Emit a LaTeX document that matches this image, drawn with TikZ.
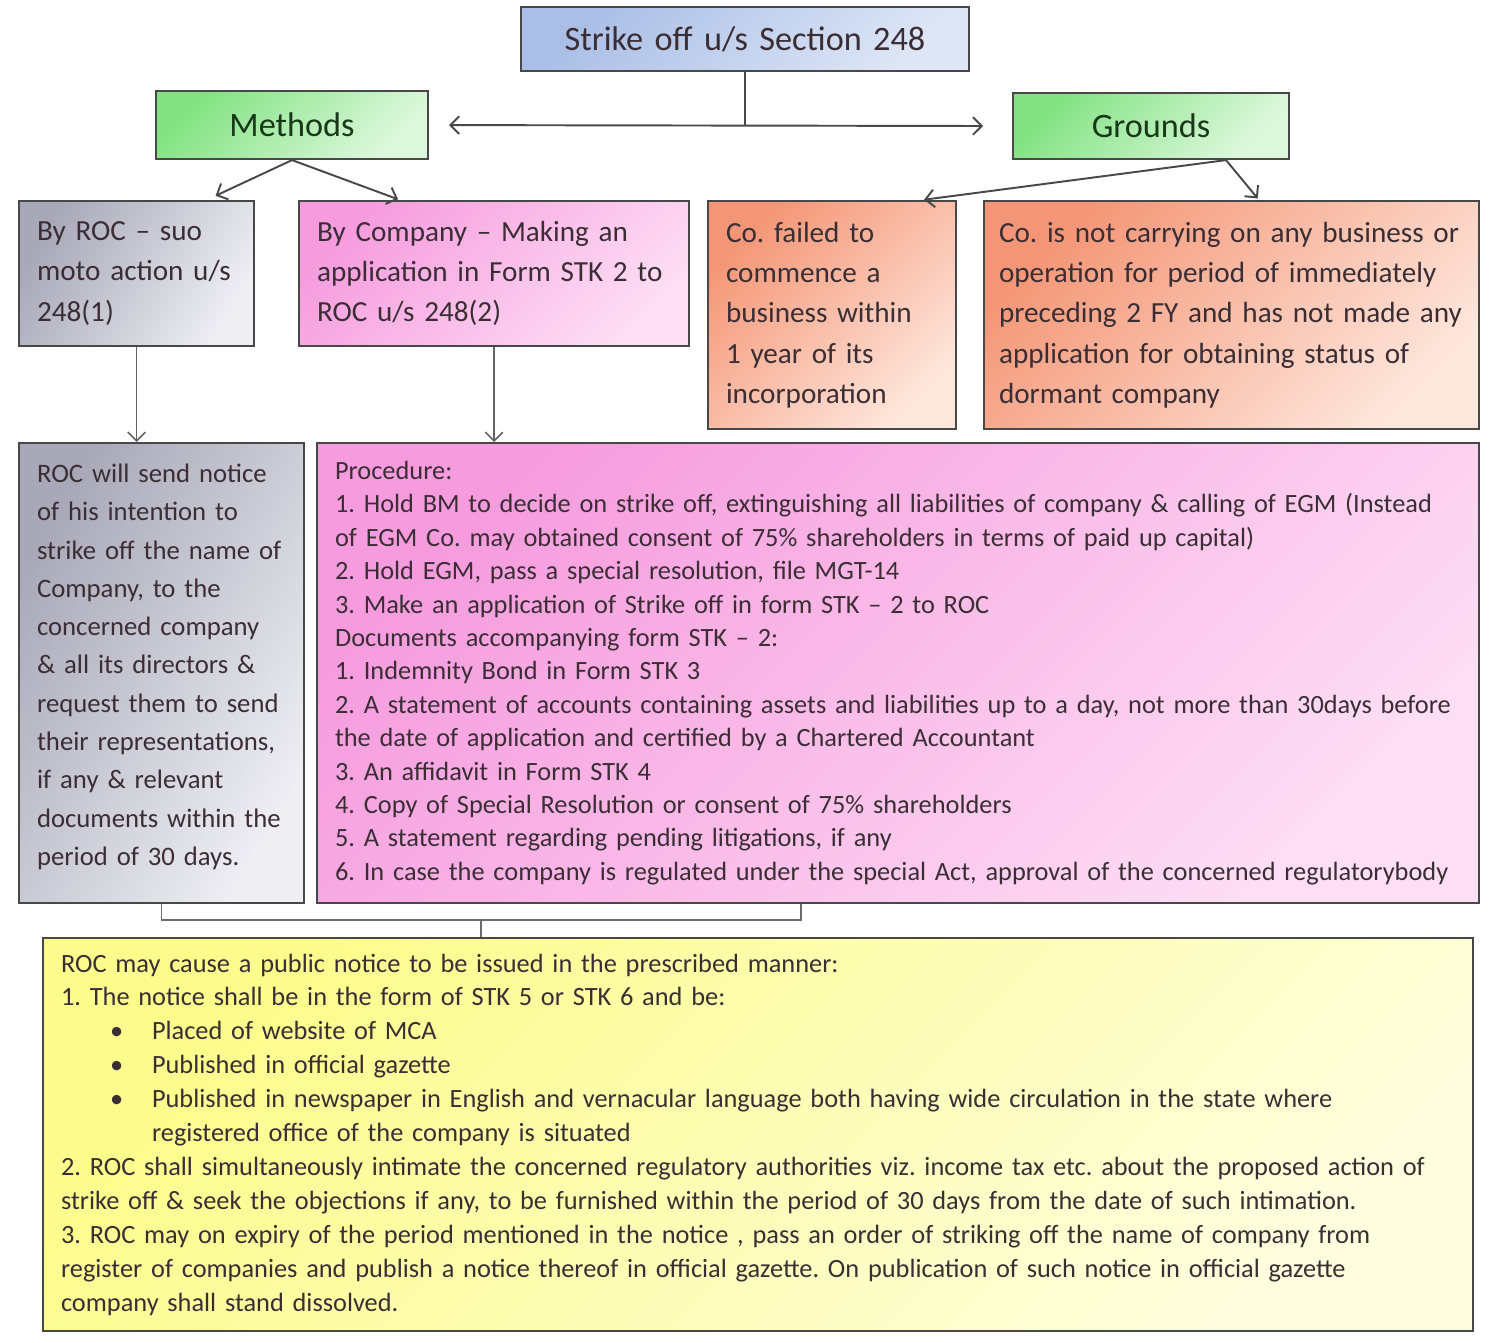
\documentclass[tikz,border=0pt]{standalone}
\usepackage{fontspec}
\setmainfont{Carlito}
\usepackage{tikz}
\usetikzlibrary{positioning,arrows.meta,calc}
\frenchspacing
\definecolor{txtcol}{RGB}{58,46,52}
\definecolor{greentxt}{RGB}{25,55,25}
\definecolor{linecol}{RGB}{72,72,72}
\definecolor{blueA}{RGB}{170,190,230}
\definecolor{blueB}{RGB}{222,230,246}
\definecolor{greenA}{RGB}{130,226,130}
\definecolor{greenB}{RGB}{222,248,222}
\definecolor{grayA}{RGB}{168,168,184}
\definecolor{grayB}{RGB}{238,238,243}
\definecolor{pinkA}{RGB}{246,156,222}
\definecolor{pinkB}{RGB}{253,222,244}
\definecolor{salmonA}{RGB}{244,150,118}
\definecolor{salmonB}{RGB}{253,230,220}
\definecolor{yellowA}{RGB}{252,252,140}
\definecolor{yellowB}{RGB}{254,254,222}

\begin{document}
\begin{tikzpicture}[
  x=0.02cm, y=-0.02cm, % 1 单位 = 1 像素
  >={Straight Barb[length=5pt,width=10pt]}, % 箭头样式
  box/.style={draw=linecol, line width=1.2pt, anchor=north west, align=left,
    inner xsep=0.36cm, inner ysep=2pt, text=txtcol},
  bluebox/.style={box, top color=blueA, bottom color=blueB, shading angle=45},
  greenbox/.style={box, top color=greenA, bottom color=greenB, shading angle=45, text=greentxt},
  graybox/.style={box, top color=grayA, bottom color=grayB, shading angle=60},
  pinkbox/.style={box, top color=pinkA, bottom color=pinkB, shading angle=45},
  salmonbox/.style={box, top color=salmonA, bottom color=salmonB, shading angle=45},
  yellowbox/.style={box, top color=yellowA, bottom color=yellowB, shading angle=45},
  bigfont/.style={font=\fontsize{19.5}{23}\selectfont},
  midfont/.style={font=\fontsize{16.6}{22.9}\selectfont},
  link/.style={draw=linecol, line width=1.1pt},
  down/.style={draw=linecol!85, line width=0.9pt, ->}
]
\useasboundingbox (0,0) rectangle (1500,1342);

% 第一行
\node[bluebox, bigfont, align=center, text width=8.24cm, minimum height=1.28cm] (title) at (520,6) {Strike off u/s Section 248};

% 第二行
\node[greenbox, bigfont, align=center, text width=4.72cm, minimum height=1.36cm] (methods) at (155,90) {Methods};
\node[greenbox, bigfont, align=center, text width=4.80cm, minimum height=1.32cm] (grounds) at (1012,92) {Grounds};

% 第三行
\node[graybox, midfont, text width=3.98cm, minimum height=2.90cm] (rocbox) at (18,200)
  {By ROC -- suo\\moto action u/s\\248(1)};
\node[pinkbox, midfont, text width=7.08cm, minimum height=2.90cm] (compbox) at (298,200)
  {By Company -- Making an\\application in Form STK 2 to\\ROC u/s 248(2)};
\node[salmonbox, midfont, text width=4.24cm, minimum height=4.56cm] (failbox) at (707,200)
  {Co. failed to\\commence a\\business within\\1 year of its\\incorporation};
\node[salmonbox, midfont, inner xsep=0.3cm, text width=9.30cm, minimum height=4.56cm] (notbox) at (983,200)
  {Co. is not carrying on any business or\\operation for period of immediately\\preceding 2 FY and has not made any\\application for obtaining status of\\dormant company};

% 第四行
\node[graybox, font=\fontsize{15.2}{21.8}\selectfont, text width=4.98cm, minimum height=9.20cm] (noticebox) at (18,442)
  {ROC will send notice\\of his intention to\\strike off the name of\\Company, to the\\concerned company\\\& all its directors \&\\request them to send\\their representations,\\if any \& relevant\\documents within the\\period of 30 days.\vspace{7pt}};
\node[pinkbox, font=\fontsize{15}{19}\selectfont, text width=22.52cm, minimum height=9.20cm] (procbox) at (316,442)
  {Procedure:\\
   1. Hold BM to decide on strike off, extinguishing all liabilities of company \& calling of EGM (Instead\\
   of EGM Co. may obtained consent of 75\% shareholders in terms of paid up capital)\\
   2. Hold EGM, pass a special resolution, file MGT-14\\
   3. Make an application of Strike off in form STK -- 2 to ROC\\
   Documents accompanying form STK -- 2:\\
   1. Indemnity Bond in Form STK 3\\
   2. A statement of accounts containing assets and liabilities up to a day, not more than 30days before\\
   the date of application and certified by a Chartered Accountant\\
   3. An affidavit in Form STK 4\\
   4. Copy of Special Resolution or consent of 75\% shareholders\\
   5. A statement regarding pending litigations, if any\\
   6. In case the company is regulated under the special Act, approval of the concerned regulatorybody};

% 最后一行
\node[yellowbox, font=\fontsize{15}{19.3}\selectfont, text width=27.88cm, minimum height=7.86cm] (yellowbox) at (42,937)
  {ROC may cause a public notice to be issued in the prescribed manner:\\
   1. The notice shall be in the form of STK 5 or STK 6 and be:\\
   \makebox[1.82cm][l]{\hspace{0.98cm}\textbullet}Placed of website of MCA\\
   \makebox[1.82cm][l]{\hspace{0.98cm}\textbullet}Published in official gazette\\
   \makebox[1.82cm][l]{\hspace{0.98cm}\textbullet}Published in newspaper in English and vernacular language both having wide circulation in the state where\\
   \hspace*{1.82cm}registered office of the company is situated\\
   2. ROC shall simultaneously intimate the concerned regulatory authorities viz. income tax etc. about the proposed action of\\
   strike off \& seek the objections if any, to be furnished within the period of 30 days from the date of such intimation.\\
   3. ROC may on expiry of the period mentioned in the notice , pass an order of striking off the name of company from\\
   register of companies and publish a notice thereof in official gazette. On publication of such notice in official gazette\\
   company shall stand dissolved.};

% 连线
\draw[link] (title.south) -- (title.south |- methods.east);
\draw[link, <->, shorten <=0.4cm, shorten >=0.58cm] (methods.east) -- (grounds.west);
\draw[link, ->, shorten >=0.2cm] (methods.south) -- ([xshift=1.4cm]rocbox.north);
\draw[link, ->, shorten >=0.04cm] (methods.south) -- ([xshift=2.04cm]compbox.north west);
\draw[link, ->, shorten >=0.04cm] ([xshift=1.5cm]grounds.south) -- ([xshift=-0.7cm]failbox.north east);
\draw[link, ->, shorten >=0.04cm] ([xshift=1.5cm]grounds.south) -- ([xshift=0.55cm]notbox.north);

\draw[down] (rocbox.south) -- (rocbox.south |- noticebox.north);
\draw[down] (compbox.south) -- (compbox.south |- procbox.north);

% 括号
\coordinate (bl) at ($(noticebox.south)+(0,16)$);
\coordinate (br) at ($(procbox.south)+(-97,16)$);
\coordinate (bm) at ($(bl)!0.5!(br)$);
\draw[link, draw=linecol!80] (noticebox.south) -- (bl) -- (br) -- (br |- procbox.south);
\draw[link, draw=linecol!80] (bm) -- (bm |- yellowbox.north);
\end{tikzpicture}
\end{document}
